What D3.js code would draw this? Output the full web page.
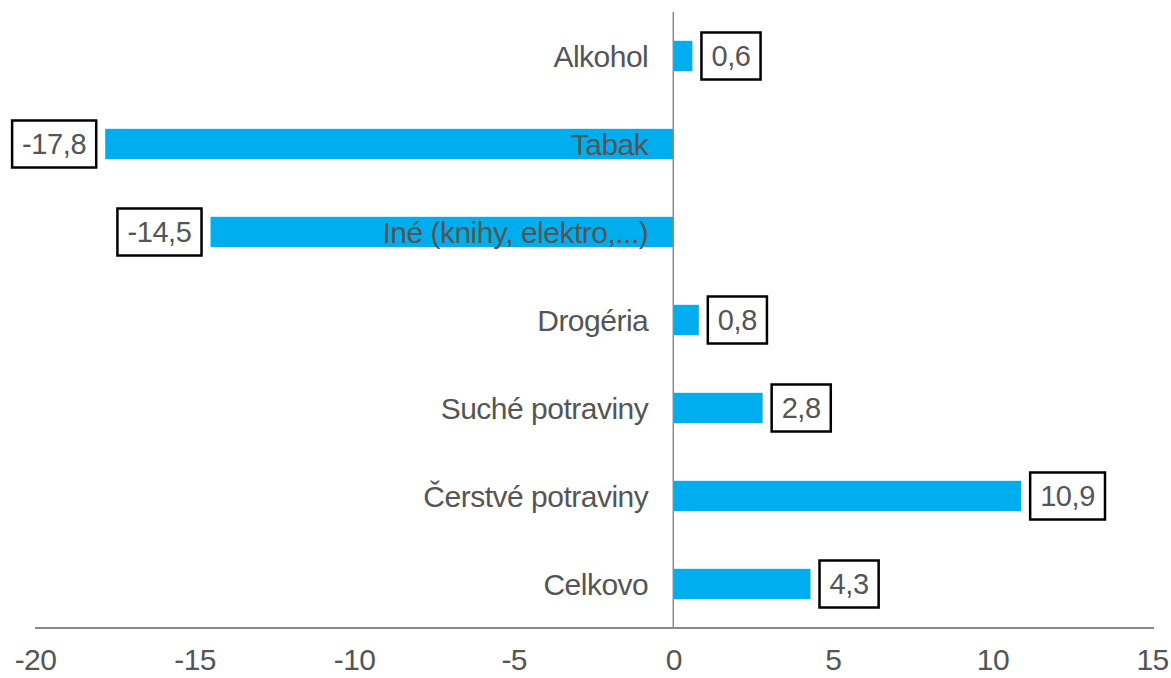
<!DOCTYPE html>
<html>
<head>
<meta charset="utf-8">
<script src="https://cdn.jsdelivr.net/npm/d3@7"></script>
<style>
  html, body { margin: 0; padding: 0; background: #fff; }
  svg { display: block; }
  text { font-family: "Liberation Sans", Arial, sans-serif; }
</style>
</head>
<body>
<svg id="chart" width="1171" height="678"></svg>
<script>
const categories = ["Alkohol", "Tabak", "Iné (knihy, elektro,...)", "Drogéria", "Suché potraviny", "Čerstvé potraviny", "Celkovo"];
const values = [0.6, -17.8, -14.5, 0.8, 2.8, 10.9, 4.3];
const valueLabels = ["0,6", "-17,8", "-14,5", "0,8", "2,8", "10,9", "4,3"];
const tickValues = [-20, -15, -10, -5, 0, 5, 10, 15];
const tickLabels = ["-20", "-15", "-10", "-5", "0", "5", "10", "15"];

const svg = d3.select("#chart");
const barColor = "#00aeef";
const textColor = "#555555";

const x = d3.scaleLinear().domain([-20, 15]).range([35, 1152]);
const y = d3.scaleBand().domain(categories).range([12, 628])
  .paddingInner(0.655).paddingOuter(0.3275).align(0.5);

// bars
svg.append("g").selectAll("rect")
  .data(categories)
  .join("rect")
  .attr("x", (d, i) => x(Math.min(0, values[i])))
  .attr("y", d => y(d))
  .attr("width", (d, i) => Math.abs(x(values[i]) - x(0)))
  .attr("height", y.bandwidth())
  .attr("fill", barColor);

// vertical zero line
svg.append("line")
  .attr("x1", x(0)).attr("x2", x(0))
  .attr("y1", 12).attr("y2", 628)
  .attr("stroke", "#8a8a8a").attr("stroke-width", 1.5);

// x axis
const xAxis = d3.axisBottom(x)
  .tickValues(tickValues)
  .tickFormat((d, i) => tickLabels[i])
  .tickSize(0)
  .tickPadding(21);
const gx = svg.append("g").attr("transform", "translate(0,628)").call(xAxis);
gx.select(".domain").attr("stroke", "#8a8a8a").attr("stroke-width", 2.2)
  .attr("d", `M${x(-20)},0H${x(15)+2}`);
gx.selectAll("text")
  .attr("font-size", 30)
  .attr("font-family", "'Liberation Sans', Arial, sans-serif")
  .attr("letter-spacing", -0.6)
  .attr("fill", textColor);

// category labels (right-aligned, left of zero line)
svg.append("g").selectAll("text")
  .data(categories)
  .join("text")
  .attr("x", x(0) - 25)
  .attr("y", d => y(d) + y.bandwidth() / 2)
  .attr("dy", "0.36em")
  .attr("text-anchor", "end")
  .attr("font-size", 30)
  .attr("letter-spacing", -0.5)
  .attr("fill", textColor)
  .text(d => d);

// value labels in boxes
const gap = 9, padX = 10, boxH = 47;
const lg = svg.append("g");
categories.forEach((c, i) => {
  const v = values[i];
  const cy = y(c) + y.bandwidth() / 2;
  const t = lg.append("text")
    .attr("y", cy)
    .attr("dy", "0.36em")
    .attr("font-size", 29)
    .attr("letter-spacing", -0.4)
    .attr("fill", textColor)
    .text(valueLabels[i]);
  const tw = t.node().getComputedTextLength();
  const bw = tw + padX * 2;
  const bx = v >= 0 ? x(v) + gap : x(v) - gap - bw;
  t.attr("x", bx + padX);
  lg.insert("rect", "text")
    .attr("x", bx).attr("y", cy - boxH / 2)
    .attr("width", bw).attr("height", boxH)
    .attr("fill", "#fff")
    .attr("stroke", "#000").attr("stroke-width", 2.5);
});
</script>
</body>
</html>
